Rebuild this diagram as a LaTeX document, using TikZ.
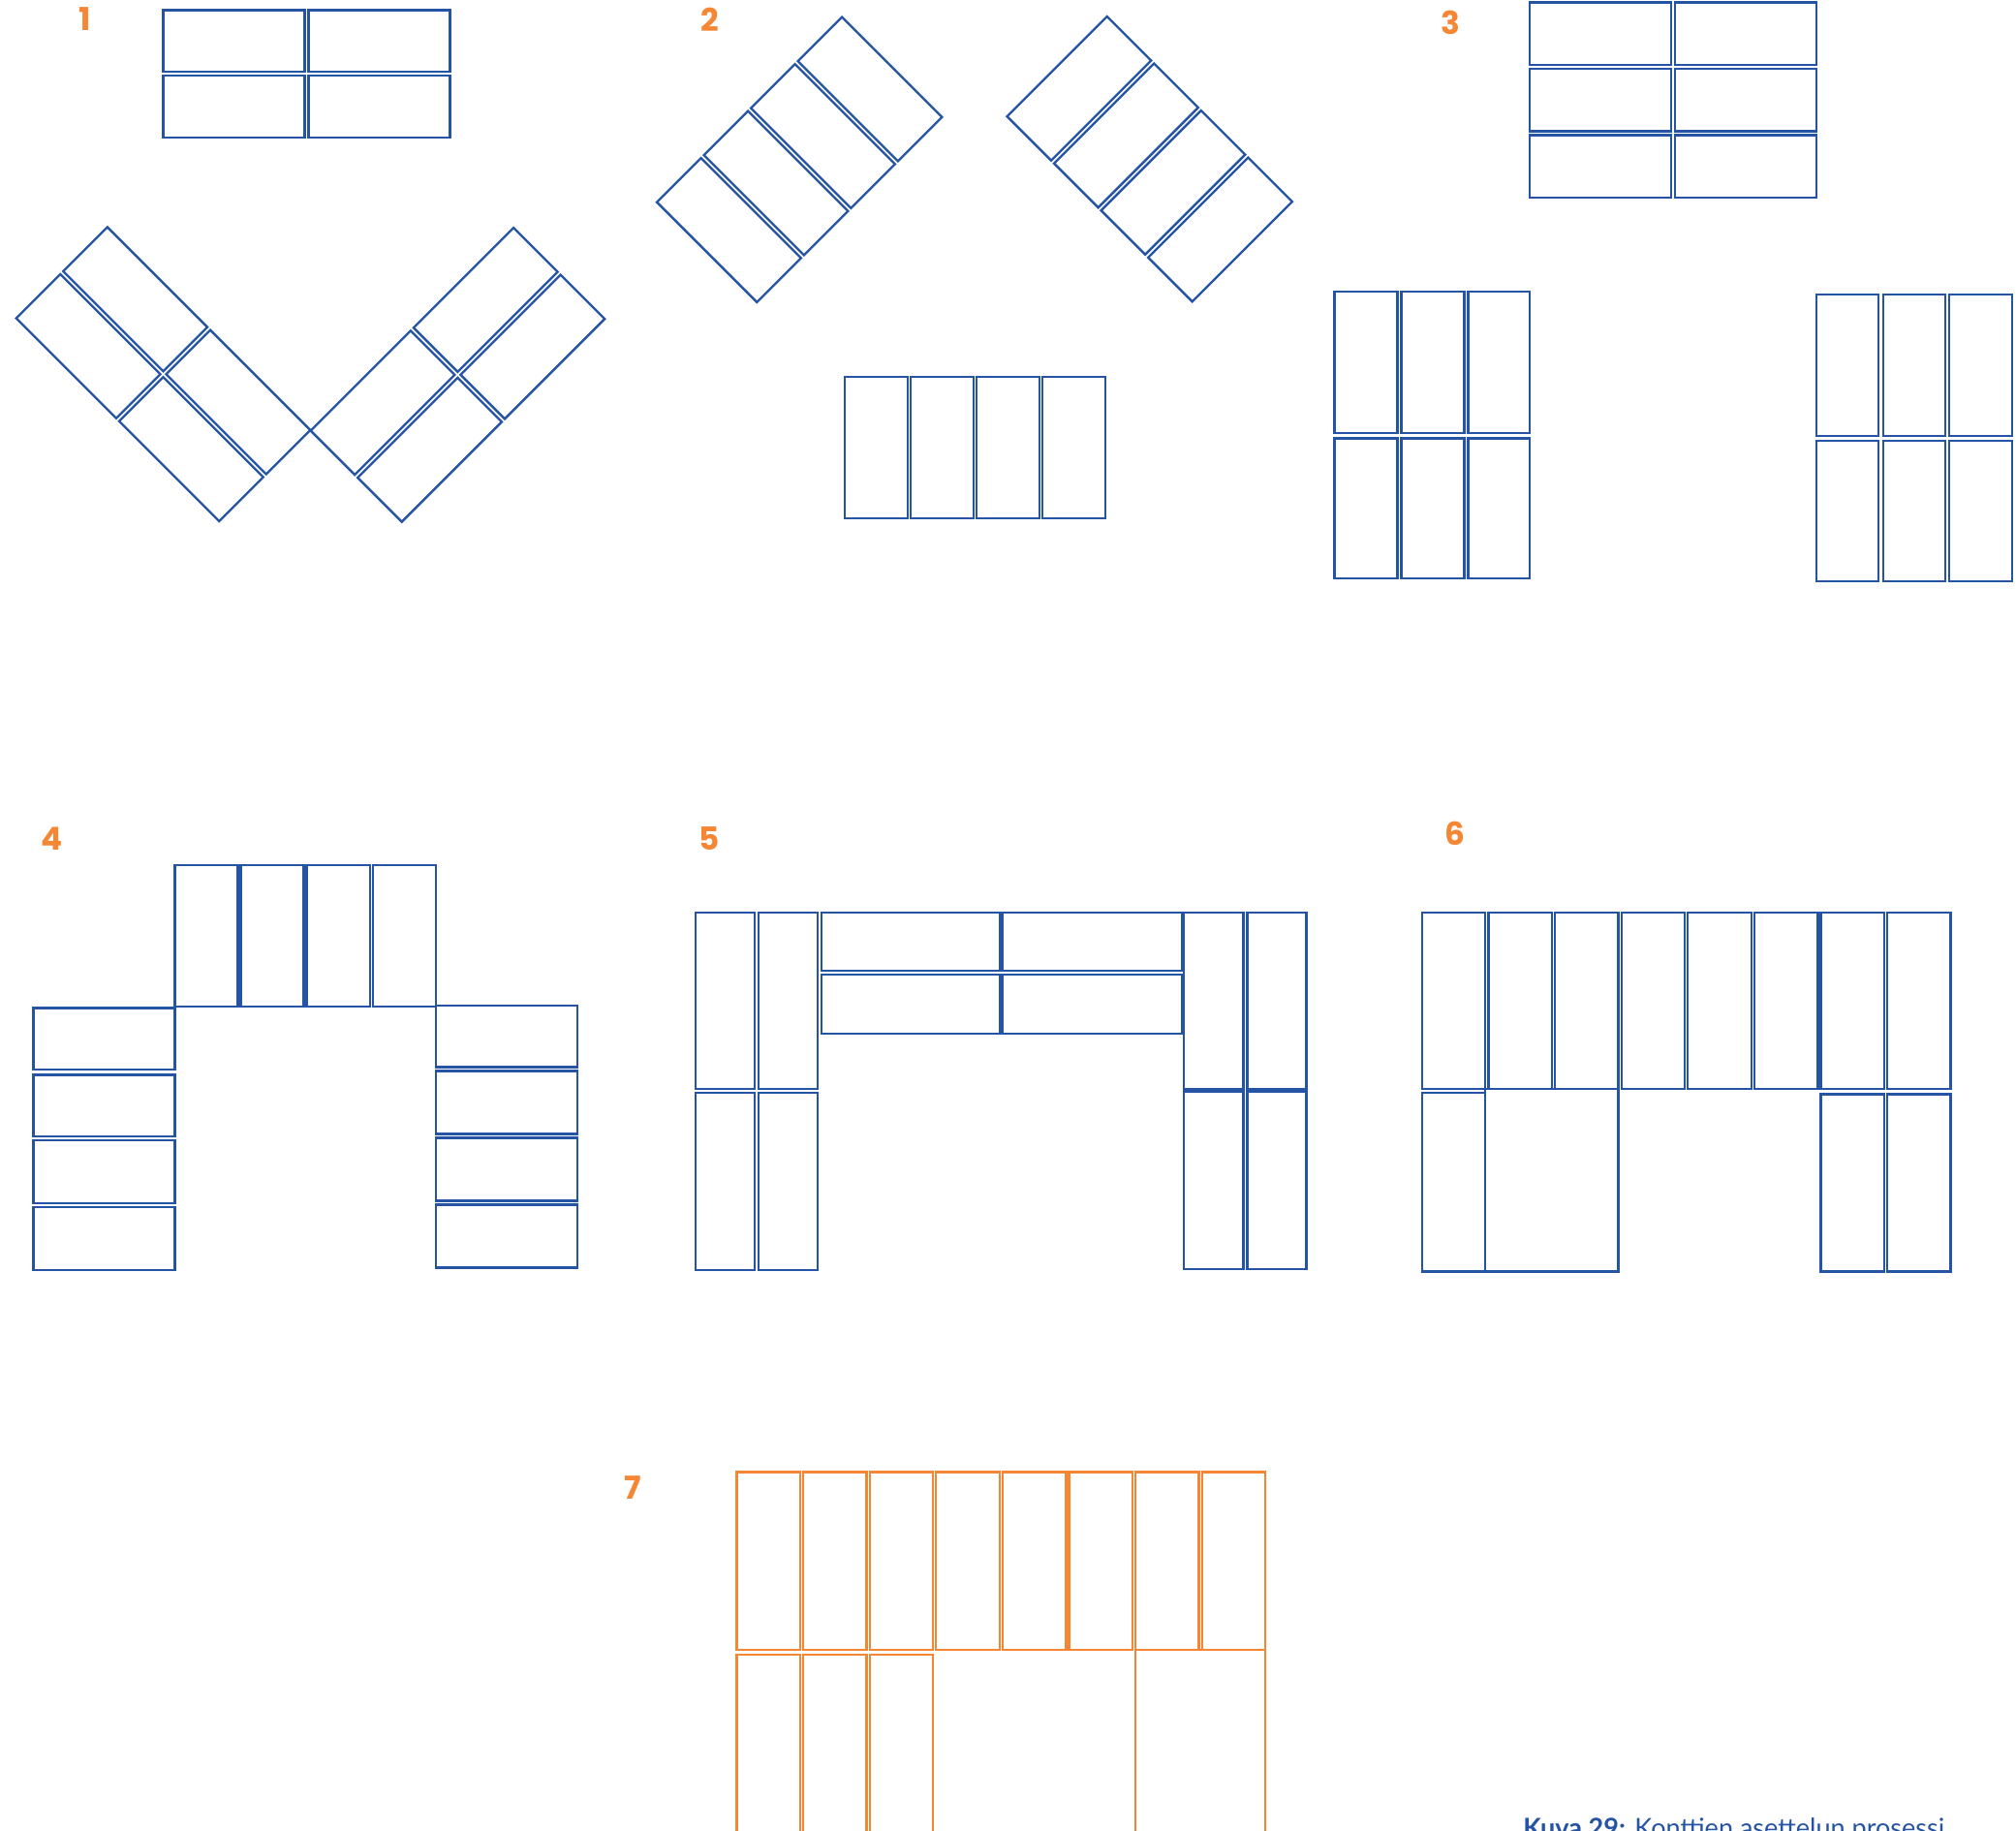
\documentclass[tikz,border=0pt]{standalone}
\usepackage{fontspec}
\newfontfamily\labfont{Poppins}
\newfontfamily\capfont{Lato}
\definecolor{cblue}{RGB}{38,84,164}
\definecolor{corange}{RGB}{245,134,52}
\tikzset{
  box/.style={draw=cblue, line width=0.5pt},
  obox/.style={draw=corange, line width=0.5pt},
  lab/.style={text=corange, inner sep=0pt, font=\labfont\bfseries\fontsize{7}{8}\selectfont}
}
\begin{document}
\begin{tikzpicture}[x=0.01cm,y=-0.01cm]
\useasboundingbox (0,0) rectangle (1568,1424);
\clip (0,0) rectangle (1568,1424);

% ---------- labels
\node[lab] (l1) at (66,15) {1};
\node[lab] (l2) at (552,15) {2};
\node[lab] (l3) at (1128,18) {3};
\node[lab] (l4) at (40.5,652) {4};
\node[lab] (l5) at (552,652) {5};
\node[lab] (l6) at (1132,648) {6};
\node[lab] (l7) at (492,1157) {7};

% ---------- group 1
\foreach \xa/\xb in {127/237,240/350}
  \foreach \ya/\yb in {8/56,59/107}
    \draw[box] (\xa,\ya) rectangle (\xb,\yb);
\begin{scope}[shift={(127,291)},rotate=-45]
  \foreach \xa/\xb in {-111.6/-1.6,1.6/111.6}
    \foreach \ya/\yb in {-50.1/-1.6,1.6/50.1}
      \draw[box] (\xa,\ya) rectangle (\xb,\yb);
\end{scope}
\begin{scope}[shift={(356,291.5)},rotate=45]
  \foreach \xa/\xb in {-111.6/-1.6,1.6/111.6}
    \foreach \ya/\yb in {-50.1/-1.6,1.6/50.1}
      \draw[box] (\xa,\ya) rectangle (\xb,\yb);
\end{scope}

% ---------- group 2
\begin{scope}[shift={(622,124)},rotate=-45]
  \foreach \i in {0,...,3}
    \draw[box] (-55,{-101.55+51.7*\i}) rectangle (55,{-101.55+51.7*\i+48.5});
\end{scope}
\begin{scope}[shift={(894,123.5)},rotate=45]
  \foreach \i in {0,...,3}
    \draw[box] (-55,{-101.55+51.7*\i}) rectangle (55,{-101.55+51.7*\i+48.5});
\end{scope}
\foreach \i in {0,...,3}
  \draw[box] ({657+51.3*\i},293) rectangle ({657+51.3*\i+49},403);

% ---------- group 3
\foreach \xa/\xb in {1190/1300,1303/1413}
  \foreach \ya/\yb in {2/50.5,53.5/102,105/153.5}
    \draw[box] (\xa,\ya) rectangle (\xb,\yb);
\foreach \xa/\xb in {1038/1087,1090/1139,1142/1190}
  \foreach \ya/\yb in {227/337,341/450}
    \draw[box] (\xa,\ya) rectangle (\xb,\yb);
\foreach \xa/\xb in {1413/1461,1465/1513,1516/1565}
  \foreach \ya/\yb in {229/339,343/452}
    \draw[box] (\xa,\ya) rectangle (\xb,\yb);

% ---------- group 4
\foreach \i in {0,...,3}
  \draw[box] ({136+51.3*\i},673) rectangle ({136+51.3*\i+49},783);
\foreach \ya/\yb in {784/832,836/884,887/936,939/988}
  \draw[box] (26,\ya) rectangle (136,\yb);
\foreach \ya/\yb in {782/830,833/882,885/934,937/986}
  \draw[box] (339,\ya) rectangle (449,\yb);

% ---------- group 5
\foreach \xa/\xb in {541/587,590/636}
  \foreach \ya/\yb in {710/847,850/988}
    \draw[box] (\xa,\ya) rectangle (\xb,\yb);
\foreach \xa/\xb in {639/778,780/919}
  \foreach \ya/\yb in {710/755,758/804}
    \draw[box] (\xa,\ya) rectangle (\xb,\yb);
\foreach \xa/\xb in {921/967,970/1016}
  \foreach \ya/\yb in {710/847.2,849/987}
    \draw[box] (\xa,\ya) rectangle (\xb,\yb);

% ---------- group 6
\foreach \i in {0,...,7}
  \draw[box] ({1106+51.7*\i},710) rectangle ({1106+51.7*\i+49.3},847);
\draw[box] (1106,850) rectangle (1155.3,989);
\draw[box] (1155.3,847) rectangle (1258.7,989);
\foreach \i in {6,7}
  \draw[box] ({1106+51.7*\i},851) rectangle ({1106+51.7*\i+49.3},989);

% ---------- group 7
\foreach \i in {0,...,7}
  \draw[obox] ({573+51.7*\i},1145) rectangle ({573+51.7*\i+49.3},1283);
\foreach \i in {0,1,2}
  \draw[obox] ({573+51.7*\i},1287) rectangle ({573+51.7*\i+49.3},1450);
\draw[obox] (883.2,1283) rectangle (984.2,1450);

% ---------- caption
\node[anchor=base west, inner sep=0pt, text=cblue, font=\capfont\fontsize{5.8}{7}\selectfont] (cap) at (1184,1428.8)
  {{\bfseries Kuva 29:} Konttien asettelun prosessi};
\end{tikzpicture}
\end{document}
